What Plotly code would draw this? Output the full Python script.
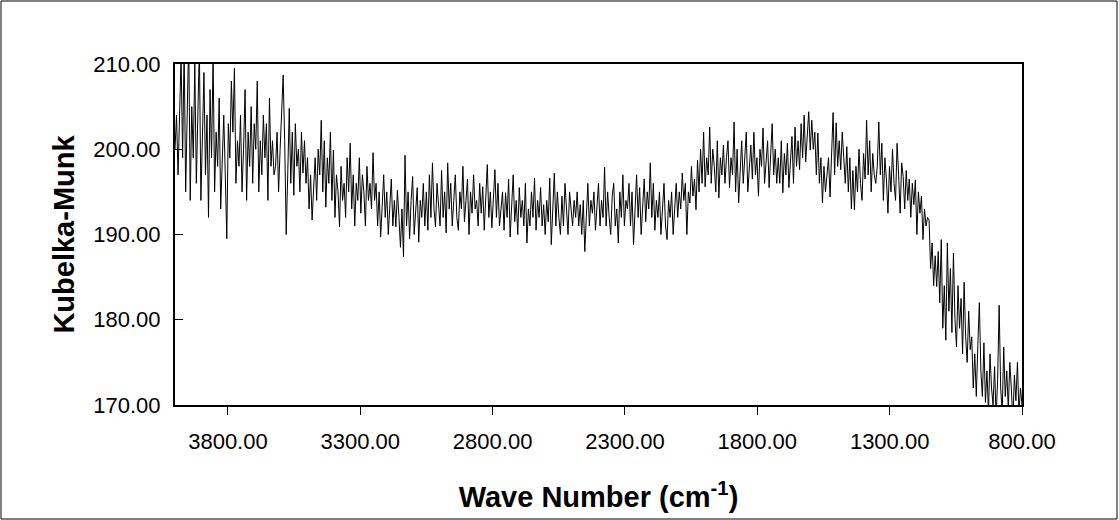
import numpy as np
import plotly.graph_objects as go

# Wave number range of the spectrum (reversed axis)
wn_start = 4000.0
wn_end = 800.0

# Kubelka-Munk values, high to low wave number
km_values = [
    # ~4000-3810
    200, 204, 197, 206, 211, 199, 212, 195, 208, 213, 194, 205, 199, 210, 196, 203, 212, 194, 201, 209,
    197, 204, 192, 207, 199, 211, 195, 202, 198, 206, 193, 200, 204,
    # ~3810-3620
    197, 189.5, 203, 199, 208, 202, 209.5, 196, 201, 198, 204, 195, 200, 207, 194, 202, 198, 205, 196, 203,
    200, 208, 195, 201, 197, 204, 199, 203, 194, 206, 198, 201, 197,
    # ~3620-3430
    198, 202, 195, 200, 205, 208.7, 201, 190, 197, 204.8, 196, 202, 194.6, 203, 198, 200, 195, 202, 197.2, 201,
    196, 199, 193, 197, 191.7, 196, 199, 194, 200, 197, 203.4, 195, 201,
    # ~3430-3240
    193.2, 199, 196, 202, 194, 199.9, 192, 197, 195, 190.9, 198, 194, 196, 192, 199, 195, 200.7, 193, 197, 191,
    196, 194, 199, 192.5, 197, 195, 191, 198, 194, 196, 193, 199.6, 194,
    # ~3240-3050
    196, 191, 195, 189.7, 194, 197, 192, 195, 190, 193, 196.5, 191, 194, 190.9, 195.2, 192, 188.5, 193, 187.4, 199.3,
    191, 195, 189.5, 194, 196.8, 190, 193, 195.5, 189.1, 194, 192, 196, 191,
    # ~3050-2860
    195, 190.5, 197, 192, 198.4, 193, 190.9, 196, 194, 191, 197.5, 192, 195, 190.2, 198.4, 193, 196, 191, 194, 197,
    192, 190.5, 195, 193, 198, 191.5, 194, 196.5, 190, 195, 192.5, 197, 193,
    # ~2860-2675
    194, 191, 196, 192.5, 195.6, 190.5, 194, 198.2, 192, 195, 190.8, 194.5, 197.6, 192, 196, 191, 193.5, 195, 190.5, 194.9,
    192, 196.5, 189.7, 193, 197, 191.5, 194, 190, 195.5, 192, 194, 191, 196,
    # ~2675-2485
    189, 193, 191, 195, 192, 196.6, 190.5, 194, 192, 195.5, 191, 193.5, 190, 194, 191.5, 196.6, 188.8, 193, 197.2, 191,
    195, 192, 190, 194.5, 191, 196, 192.5, 190, 195, 193, 191, 194, 192,
    # ~2485-2295
    195, 191, 193.5, 190, 194, 188, 192, 196, 191, 194, 192.5, 195, 190.5, 193, 196, 191, 194, 192, 197.9, 191,
    195, 192, 190, 194.5, 196, 191, 193, 189, 195, 192, 197, 191, 194,
    # ~2295-2105
    193, 196, 191, 195, 188.8, 193, 197, 192, 195.5, 190, 194, 196.5, 191.5, 195, 193, 198.4, 192, 196, 190.5, 194,
    192, 195, 190, 193.5, 196, 191, 189.4, 194, 192, 195, 190, 193, 196,
    # ~2105-1915
    192, 195, 193, 197.2, 194, 196, 190, 195, 193.7, 198, 194.5, 196.5, 192.9, 198.7, 195, 200, 196, 202, 195.6, 199,
    197, 202.6, 196, 200, 198, 195, 201, 194.3, 199, 197, 200.5, 196, 199,
    # ~1915-1725
    201, 195.5, 199, 197, 203.2, 195, 200, 193.7, 198, 201, 196, 199.5, 202, 195, 198, 200.5, 196.5, 202, 197, 199,
    194.5, 200, 198, 202.5, 196, 199, 201, 195.5, 198.5, 203, 197, 200, 196,
    # ~1725-1535
    199, 196, 201, 194.9, 199.5, 197, 200.7, 195.5, 198, 201.5, 196, 202.6, 198, 201, 197.6, 203, 199, 204, 198.5, 202,
    204.4, 199.9, 203.4, 200, 202, 197, 201.9, 196, 199, 193.7, 198, 195, 197,
    # ~1535-1345
    199, 194.4, 200, 204.3, 197, 203.1, 198, 201, 197.6, 202, 199, 196, 200.3, 195, 199, 193, 197.5, 192.9, 198, 195,
    200, 196, 194, 199.5, 196.5, 203.4, 197, 201, 195, 199.5, 197, 196, 198,
    # ~1345-1155
    203.2, 197, 200.7, 194, 199, 196.5, 192.5, 198, 195, 200, 196, 194, 200.7, 197, 192.5, 198.4, 196.8, 193, 197.5, 194,
    196.5, 192, 196, 193.5, 196.4, 190, 195, 192.5, 194.5, 189.4, 193, 191, 192,
    # ~1155-965
    191.7, 186, 189, 184, 187.5, 183.9, 188, 182, 189.4, 179, 184, 177.6, 189, 181, 186, 178.5, 187.8, 180, 176.8, 184,
    179, 182.5, 176, 184.4, 178, 175, 181, 176.5, 178, 172, 176, 171, 177,
    # ~965-800
    182, 174, 171, 177.3, 170.3, 174, 169, 176, 172, 170, 174.5, 168.5, 173, 181.7, 172, 169, 176.8, 171, 174, 169.5,
    175, 172, 168, 173.5, 170.5, 175, 169, 172, 170,
]

wave_numbers = np.linspace(wn_start, wn_end, len(km_values))

x_tick_values = [3800, 3300, 2800, 2300, 1800, 1300, 800]
y_tick_values = [170, 180, 190, 200, 210]

FONT = "Liberation Sans, Arial, sans-serif"

fig = go.Figure()
fig.add_trace(go.Scatter(
    x=wave_numbers, y=km_values, mode="lines",
    line=dict(color="black", width=1),
    showlegend=False, hoverinfo="skip",
))

W, H = 1119, 520
ml, mr, mt, mb = 175, 97, 64, 115
pw, ph = W - ml - mr, H - mt - mb

fig.update_layout(
    width=W, height=H,
    margin=dict(l=ml, r=mr, t=mt, b=mb),
    paper_bgcolor="white", plot_bgcolor="white",
    font=dict(family=FONT, color="black", size=22),
    xaxis=dict(
        range=[wn_start, wn_end],
        tickvals=x_tick_values, tickformat=".2f",
        ticks="outside", ticklen=8, tickwidth=1, tickcolor="black",
        ticklabelstandoff=8,
        showline=True, linecolor="black", linewidth=2, mirror=True,
        showgrid=False, zeroline=False,
        title=dict(text="<b>Wave Number (cm<sup>-1</sup>)</b>", font=dict(size=29), standoff=33),
    ),
    yaxis=dict(
        range=[170, 210],
        tickvals=y_tick_values, tickformat=".2f",
        ticks="inside", ticklen=8, tickwidth=1, tickcolor="black",
        ticklabelstandoff=8,
        showline=True, linecolor="black", linewidth=2, mirror=True,
        showgrid=False, zeroline=False,
        title=dict(text="<b>Kubelka-Munk</b>", font=dict(size=29), standoff=10),
    ),
)

# thin border around the whole chart
fig.add_shape(
    type="rect", xref="paper", yref="paper",
    x0=(1 - ml) / pw, x1=(W - 2 - ml) / pw,
    y0=(H - mb - (H - 1)) / ph, y1=(H - mb - 1) / ph,
    line=dict(color="black", width=1), fillcolor="rgba(0,0,0,0)", layer="below",
)

fig.write_html(
    "out.html",
    config={"displayModeBar": False},
    post_script="document.body.style.margin='0';document.body.style.padding='0';",
)
